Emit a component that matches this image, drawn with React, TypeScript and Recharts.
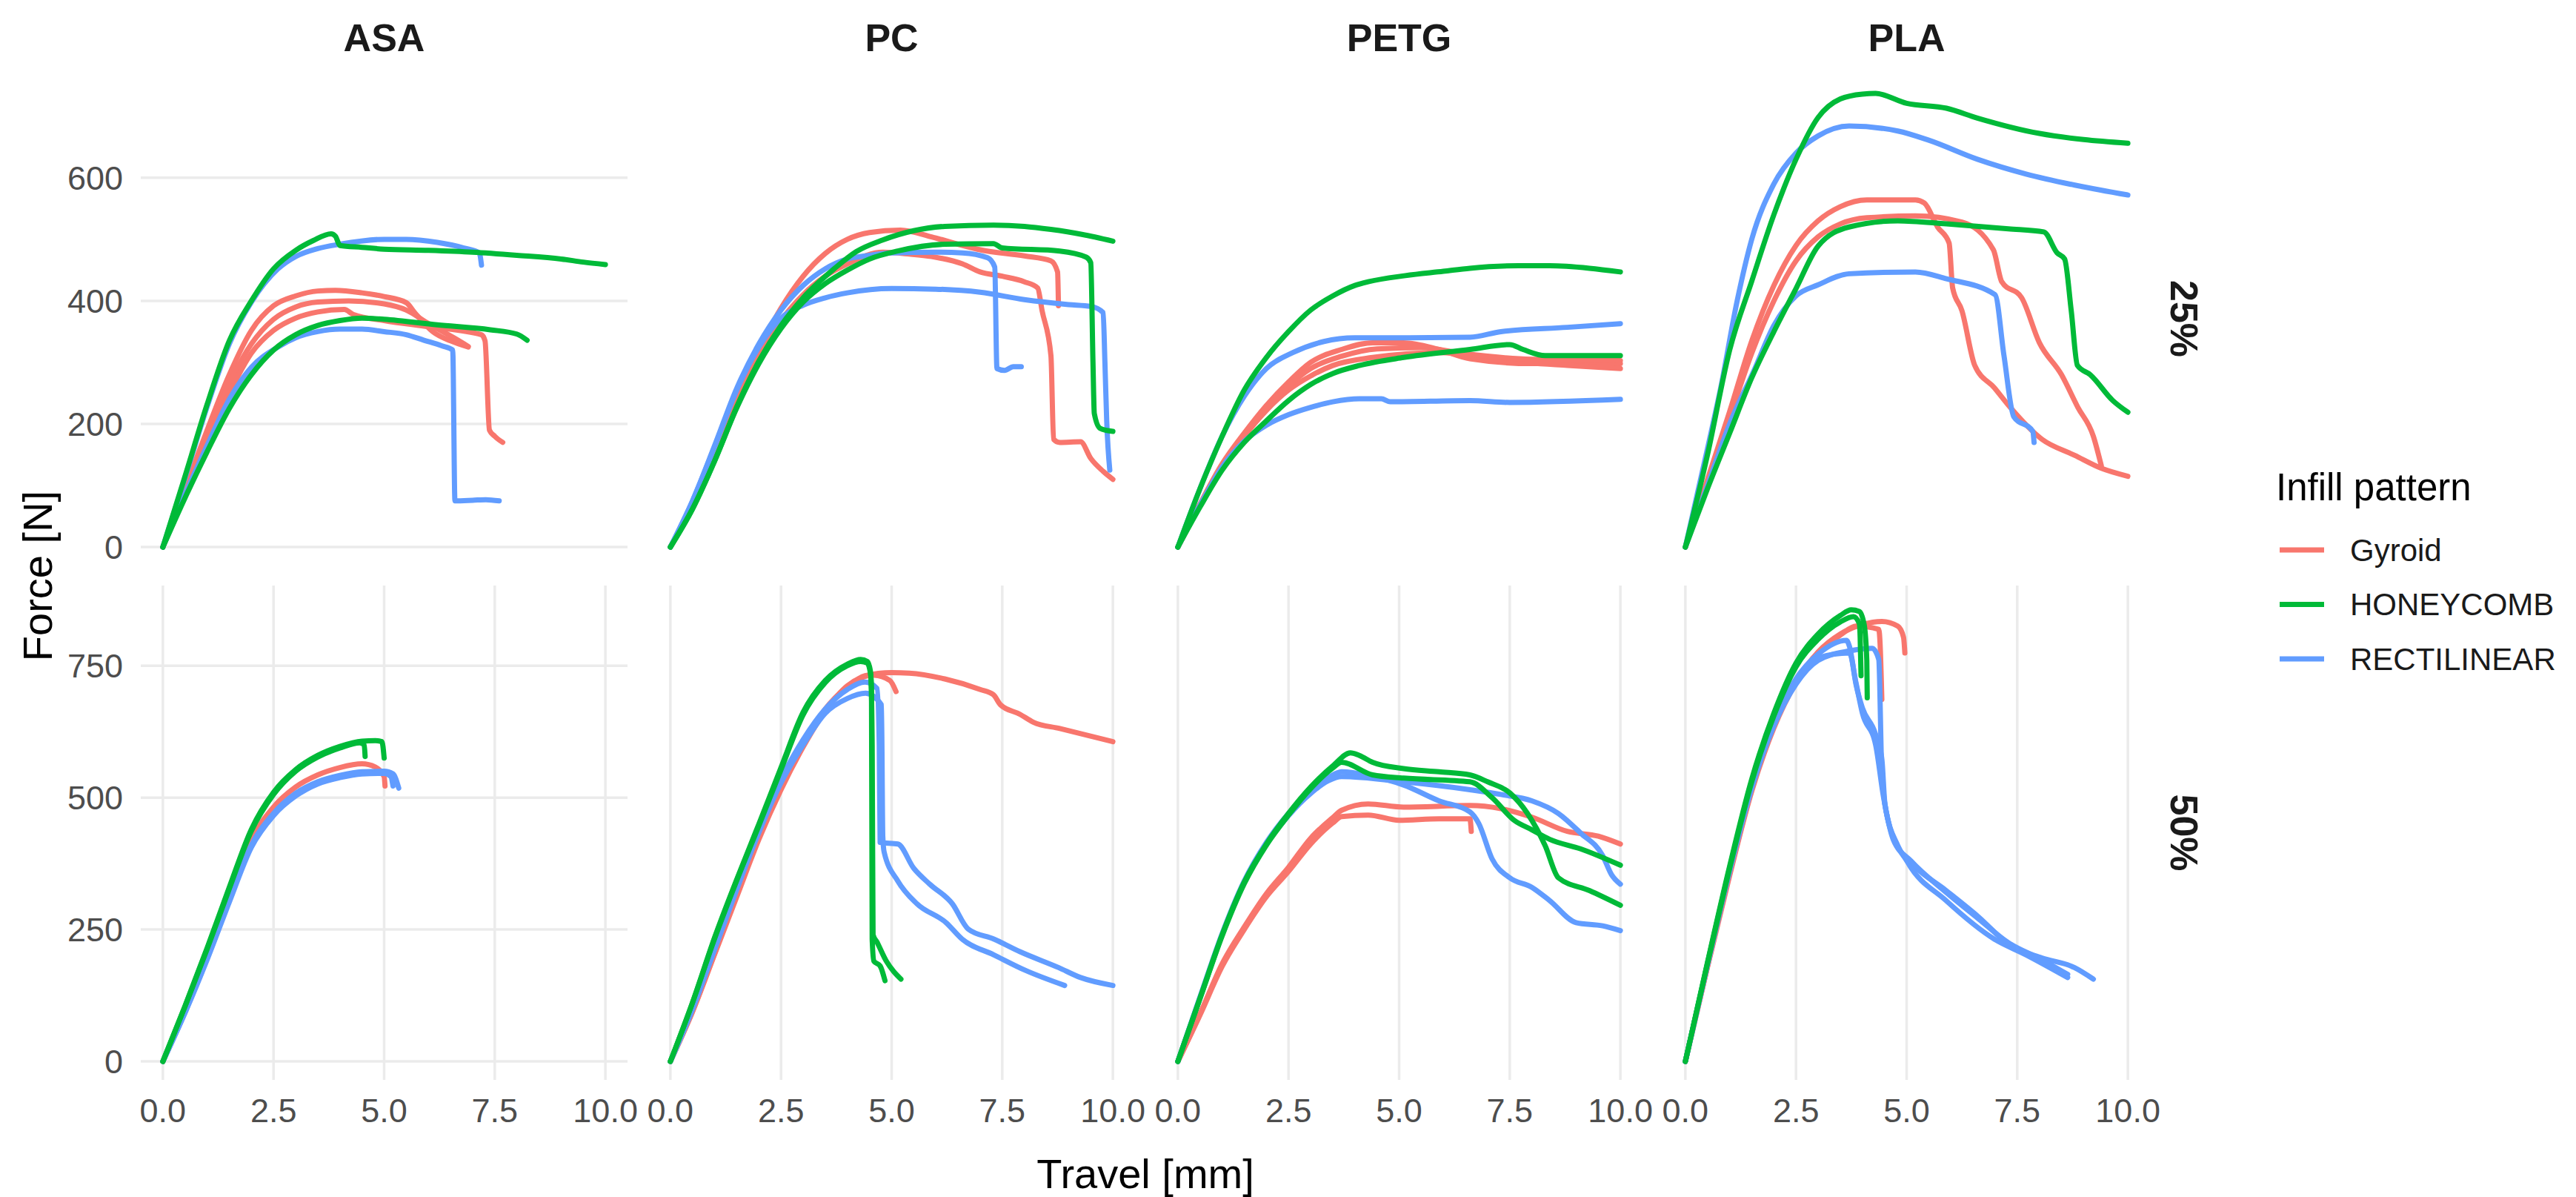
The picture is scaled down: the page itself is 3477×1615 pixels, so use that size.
import React from 'react';
import { LineChart, Line, XAxis, YAxis, CartesianGrid } from 'recharts';

type Pt = [number, number];

// ---- ASA 25% ----
const asa25Gyroid1: Pt[] = [[0,0],[0.5,95],[1,190],[1.5,280],[2,352],[2.5,392],[3,408],[3.5,416],[3.9,417],[4.5,413],[5,407],[5.5,397],[5.7,380],[6.1,350],[6.5,335],[6.9,325]];
const asa25Gyroid2: Pt[] = [[0,0],[0.5,90],[1,180],[1.5,265],[2,330],[2.5,370],[3,390],[3.5,398],[4.2,400],[5,395],[5.5,385],[6,363],[6.6,339],[6.9,326]];
const asa25Gyroid3: Pt[] = [[0,0],[0.5,88],[1,172],[1.5,250],[2,315],[2.5,352],[3,372],[3.5,382],[4.1,386],[4.3,378],[5,368],[6,358],[7.2,345],[7.28,335],[7.38,190],[7.5,180],[7.68,170]];
const asa25Honey1: Pt[] = [[0,0],[0.5,115],[1,232],[1.5,335],[2,400],[2.5,452],[3,482],[3.4,498],[3.8,509],[3.9,505],[4,490],[4.5,487],[5,484],[6,482],[7,479],[8,474],[9,468],[9.5,463],[10,459]];
const asa25Honey2: Pt[] = [[0,0],[0.5,80],[1,155],[1.5,225],[2,280],[2.5,320],[3,345],[3.5,360],[4,368],[4.5,372],[5,370],[6.2,361],[7.4,353],[8,346],[8.23,336]];
const asa25Rect1: Pt[] = [[0,0],[0.5,112],[1,228],[1.5,330],[2,398],[2.6,452],[3,472],[3.5,485],[4,492],[5,500],[5.5,500],[6.2,495],[6.8,486],[7.15,478],[7.2,458]];
const asa25Rect2: Pt[] = [[0,0],[0.5,85],[1,165],[1.5,240],[2,292],[2.6,325],[3,340],[3.5,350],[4,354],[4.5,354],[5,350],[5.5,345],[5.9,336],[6.3,327],[6.55,320],[6.6,75],[7,76],[7.3,77],[7.6,75]];

// ---- ASA 50% ----
const asa50Gyroid1: Pt[] = [[0,0],[0.5,95],[1,200],[1.5,310],[2,420],[2.5,482],[3,520],[3.5,543],[4,557],[4.5,564],[4.8,558],[5,540],[5.02,522]];
const asa50Honey1: Pt[] = [[0,0],[0.5,105],[1,215],[1.5,330],[2,440],[2.5,510],[3,553],[3.5,580],[4,597],[4.5,607],[4.8,608],[4.95,606],[5,575]];
const asa50Honey2: Pt[] = [[0,0],[0.5,104],[1,213],[1.5,327],[2,437],[2.5,506],[3,550],[3.5,577],[4,594],[4.45,604],[4.55,600],[4.57,578]];
const asa50Rect1: Pt[] = [[0,0],[0.5,93],[1,195],[1.5,305],[2,410],[2.5,470],[3,508],[3.5,530],[4,542],[4.5,549],[5,550],[5.2,545],[5.33,518]];
const asa50Rect2: Pt[] = [[0,0],[0.5,92],[1,193],[1.5,302],[2,406],[2.5,466],[3,503],[3.5,526],[4,538],[4.5,545],[5,546],[5.15,540],[5.2,522]];

// ---- PC 25% ----
const pc25Gyroid1: Pt[] = [[0,0],[0.5,68],[1,150],[1.5,240],[2,320],[2.5,388],[3,440],[3.5,477],[4,500],[4.5,511],[5.2,515],[5.9,504],[6.5,492],[7,483],[8,473],[8.6,465],[8.75,447],[8.77,392]];
const pc25Gyroid2: Pt[] = [[0,0],[0.5,65],[1,145],[1.5,230],[2,310],[2.5,368],[3,410],[3.5,440],[4,460],[4.8,479],[5.4,476],[5.9,472],[6.6,460],[7,447],[7.5,440],[8,431],[8.3,421],[8.4,384],[8.6,311],[8.66,175],[8.8,170],[9.27,171],[9.5,144],[9.78,123],[10,110]];
const pc25Honey1: Pt[] = [[0,0],[0.5,62],[1,140],[1.5,228],[2,302],[2.5,360],[3,405],[3.7,452],[4.2,480],[4.8,499],[5.5,514],[6.2,521],[7.3,523],[8,521],[8.6,516],[9.3,508],[10,497]];
const pc25Honey2: Pt[] = [[0,0],[0.5,62],[1,140],[1.5,226],[2,298],[2.5,355],[3,398],[3.5,428],[4,450],[4.5,468],[5.14,481],[6.2,492],[7.3,493],[7.5,486],[8.8,481],[9.4,471],[9.5,462],[9.55,300],[9.58,217],[9.71,193],[10,188]];
const pc25Rect1: Pt[] = [[0,0],[0.5,75],[1,165],[1.5,258],[2,330],[2.5,385],[3,425],[3.5,452],[4,468],[4.5,474],[5,478],[6,479],[6.6,478],[7.17,470],[7.33,455],[7.38,290],[7.55,287],[7.75,293],[7.93,293]];
const pc25Rect2: Pt[] = [[0,0],[0.5,75],[1,163],[1.5,255],[2,325],[2.5,372],[3,393],[3.5,405],[4,413],[5,420],[6,419],[7,414],[8,402],[9,394],[9.5,391],[9.78,381],[9.82,300],[9.86,206],[9.93,125]];

// ---- PC 50% ----
const pc50Gyroid1: Pt[] = [[0,0],[0.5,95],[1,205],[1.5,315],[2,425],[2.5,520],[3,600],[3.5,668],[4,710],[4.4,731],[5,737],[5.4,736],[6.2,725],[7,705],[7.3,695],[7.46,676],[7.9,658],[8.2,643],[8.8,631],[10,606]];
const pc50Gyroid2: Pt[] = [[0,0],[0.5,94],[1,203],[1.5,312],[2,421],[2.5,515],[3,596],[3.5,664],[4,712],[4.6,732],[4.96,722],[5.1,701]];
const pc50Honey1: Pt[] = [[0,0],[0.5,112],[1,235],[1.5,345],[2,450],[2.5,557],[3,662],[3.5,722],[4,753],[4.3,762],[4.45,758],[4.52,740],[4.545,700],[4.56,232],[4.6,190],[4.74,181],[4.85,153]];
const pc50Honey2: Pt[] = [[0,0],[0.5,111],[1,233],[1.5,343],[2,447],[2.5,553],[3,657],[3.5,718],[4,750],[4.3,758],[4.45,755],[4.53,730],[4.56,600],[4.58,240],[4.67,226],[4.88,190],[5.05,170],[5.21,156]];
const pc50Rect1: Pt[] = [[0,0],[0.5,100],[1,215],[1.5,330],[2,440],[2.5,535],[3,610],[3.5,668],[4,705],[4.4,719],[4.67,707],[4.72,600],[4.74,415],[5.14,412],[5.5,366],[5.86,336],[6.37,299],[6.73,251],[7.31,232],[7.9,208],[8.77,178],[9.27,159],[10,144]];
const pc50Rect2: Pt[] = [[0,0],[0.5,99],[1,212],[1.5,326],[2,434],[2.5,528],[3,600],[3.5,660],[4,688],[4.41,698],[4.77,676],[4.8,427],[4.83,397],[5.14,342],[5.57,299],[6.23,263],[6.59,232],[7.31,202],[8.04,172],[8.91,144]];

// ---- PETG 25% ----
const petg25Gyroid1: Pt[] = [[0,0],[0.5,70],[1,135],[1.5,185],[2,230],[2.5,268],[3,300],[3.7,321],[4.4,332],[5.1,332],[5.9,321],[6.6,306],[8,298],[10,298]];
const petg25Gyroid2: Pt[] = [[0,0],[0.5,68],[1,130],[1.5,180],[2,222],[2.5,255],[3,278],[3.5,295],[4.4,308],[5.9,316],[7.3,303],[8.8,295],[10,290]];
const petg25Gyroid3: Pt[] = [[0,0],[0.5,69],[1,132],[1.5,183],[2,226],[2.5,262],[3,290],[3.7,310],[4.5,322],[5.5,324],[6.5,314],[8,305],[10,303]];
const petg25Honey1: Pt[] = [[0,0],[0.5,95],[1,180],[1.5,255],[2,308],[2.5,350],[3,385],[3.5,408],[4,425],[4.3,431],[5.14,441],[6,448],[6.6,453],[7.7,457],[8.4,457],[9.3,453],[10,447]];
const petg25Honey2: Pt[] = [[0,0],[0.5,65],[1,125],[1.5,170],[2,205],[2.5,238],[3,264],[3.5,282],[4.1,295],[5.1,308],[6.6,321],[7.5,329],[7.8,321],[8.3,311],[10,311]];
const petg25Rect1: Pt[] = [[0,0],[0.5,95],[1,180],[1.5,245],[2,290],[2.6,316],[3.3,334],[4,340],[5,340],[6.6,341],[7.3,350],[8.8,357],[10,363]];
const petg25Rect2: Pt[] = [[0,0],[0.5,68],[1,130],[1.5,172],[2,198],[2.5,215],[3,227],[3.5,236],[4.1,241],[4.6,241],[4.8,236],[6.6,238],[7.5,235],[10,240]];

// ---- PETG 50% ----
const petg50Gyroid1: Pt[] = [[0,0],[0.5,90],[1,185],[1.5,255],[2,318],[2.5,368],[3,423],[3.5,462],[3.7,476],[4.3,488],[5.1,482],[6.6,485],[7.3,479],[8,463],[8.8,436],[9.5,427],[10,412]];
const petg50Gyroid2: Pt[] = [[0,0],[0.5,88],[1,180],[1.5,250],[2,312],[2.5,360],[3,412],[3.5,452],[3.7,464],[4.3,467],[5,457],[5.9,460],[6.6,460],[6.63,436]];
const petg50Honey1: Pt[] = [[0,0],[0.5,120],[1,240],[1.5,340],[2,412],[2.5,470],[3,520],[3.5,560],[3.9,585],[4.1,580],[4.4,567],[5.1,555],[5.9,549],[6.6,543],[7,530],[7.5,509],[7.9,470],[8.3,409],[8.6,348],[9.3,324],[10,296]];
const petg50Honey2: Pt[] = [[0,0],[0.5,119],[1,238],[1.5,337],[2,410],[2.5,467],[3,517],[3.5,556],[3.7,567],[4.4,543],[5.1,537],[6.6,530],[7.1,500],[7.6,457],[8,439],[8.4,421],[9.1,403],[10,372]];
const petg50Rect1: Pt[] = [[0,0],[0.5,122],[1,242],[1.5,342],[2,415],[2.5,470],[3,512],[3.4,538],[3.7,549],[4.4,540],[5.1,524],[5.9,494],[6.6,473],[6.8,451],[7.1,384],[7.5,348],[8,330],[8.4,305],[9,263],[9.6,257],[10,248]];
const petg50Rect2: Pt[] = [[0,0],[0.5,121],[1,240],[1.5,340],[2,412],[2.5,466],[3,508],[3.4,532],[3.7,540],[5.1,530],[6.6,515],[7.3,506],[8,494],[8.6,470],[9.1,433],[9.6,390],[9.8,354],[10,336]];

// ---- PLA 25% ----
const pla25Gyroid1: Pt[] = [[0,0],[0.5,110],[1,220],[1.5,335],[2,425],[2.5,490],[3,530],[3.5,553],[4.1,564],[5.2,564],[5.4,559],[5.7,520],[5.96,494],[6.04,421],[6.25,384],[6.54,295],[6.98,259],[7.34,227],[8.06,175],[8.8,149],[9.4,128],[10,115]];
const pla25Gyroid2: Pt[] = [[0,0],[0.5,105],[1,210],[1.5,315],[2,400],[2.5,465],[3,504],[3.5,525],[4.1,535],[5.2,538],[6.25,528],[6.96,483],[7.15,431],[7.6,405],[8,332],[8.5,280],[8.87,227],[9.22,180],[9.4,132]];
const pla25Honey1: Pt[] = [[0,0],[0.5,150],[1,320],[1.5,432],[2,540],[2.5,630],[3,698],[3.5,728],[4,736],[4.3,737],[5,721],[5.9,713],[6.6,697],[8,672],[9,662],[10,656]];
const pla25Honey2: Pt[] = [[0,0],[0.5,95],[1,185],[1.5,275],[2,350],[2.5,420],[3,489],[3.7,520],[4.8,530],[5.9,525],[7.3,517],[8.1,512],[8.4,478],[8.57,468],[8.72,384],[8.86,295],[9.15,280],[9.66,238],[10,219]];
const pla25Rect1: Pt[] = [[0,0],[0.5,160],[0.8,259],[1.17,400],[1.5,500],[2,590],[2.5,640],[3,668],[3.7,684],[4.8,676],[5.5,661],[6.6,630],[7.7,606],[8.8,588],[10,572]];
const pla25Rect2: Pt[] = [[0,0],[0.5,100],[1,200],[1.54,285],[2,360],[2.5,408],[3,426],[3.7,444],[5.2,447],[5.9,436],[7,410],[7.2,311],[7.42,212],[7.85,188],[7.88,170]];

// ---- PLA 50% ----
const pla50Gyroid1: Pt[] = [[0,0],[0.5,180],[1,355],[1.5,515],[2,635],[2.5,720],[3,775],[3.5,808],[3.86,825],[4.37,819],[4.4,792],[4.44,686]];
const pla50Gyroid2: Pt[] = [[0,0],[0.5,179],[1,352],[1.5,512],[2,632],[2.5,718],[3,776],[3.5,810],[4,828],[4.44,834],[4.8,825],[4.93,804],[4.96,774]];
const pla50Honey1: Pt[] = [[0,0],[0.5,188],[1,370],[1.5,535],[2,660],[2.5,755],[3,810],[3.5,845],[3.75,856],[3.93,853],[4.04,828],[4.1,760],[4.11,689]];
const pla50Honey2: Pt[] = [[0,0],[0.5,186],[1,366],[1.5,530],[2,655],[2.5,748],[3,800],[3.5,833],[3.8,843],[3.93,830],[3.95,804],[3.97,731]];
const pla50Rect1: Pt[] = [[0,0],[0.5,185],[1,365],[1.5,525],[2,645],[2.5,725],[3,772],[3.64,798],[3.71,786],[3.86,713],[4,670],[4.29,622],[4.44,573],[4.51,488],[4.8,409],[5.16,372],[5.89,324],[6.61,275],[7.34,220],[8.06,196],[8.79,178],[9.22,156]];
const pla50Rect2: Pt[] = [[0,0],[0.5,183],[1,360],[1.5,518],[2,636],[2.5,715],[3,760],[3.7,778],[4.22,783],[4.37,762],[4.44,549],[4.58,457],[5.02,378],[5.89,305],[6.98,232],[7.7,202],[8.64,159]];
const pla50Rect3: Pt[] = [[0,0],[0.5,184],[1,362],[1.5,520],[2,640],[2.5,718],[3,765],[3.71,774],[3.85,720],[4,660],[4.3,600],[4.48,500],[4.7,420],[5.1,380],[5.9,320],[6.6,272],[7.3,225],[8,195],[8.64,165]];

// ---- axes / facets ----
const MATERIALS = ['ASA', 'PC', 'PETG', 'PLA'];
const INFILLS = ['25%', '50%'];
const X_TICKS = [0, 2.5, 5, 7.5, 10];
const Y_TICKS_25 = [0, 200, 400, 600];
const Y_TICKS_50 = [0, 250, 500, 750];
const PATTERNS = ['Gyroid', 'HONEYCOMB', 'RECTILINEAR'];
const COLORS: Record<string, string> = { Gyroid: '#F8766D', HONEYCOMB: '#00BA38', RECTILINEAR: '#619CFF' };

type Curve = { pattern: string; pts: Pt[] };
const c = (pattern: string, pts: Pt[]): Curve => ({ pattern, pts });

// panel curves, row by row (25% then 50%), drawn red, blue, green
const PANEL_CURVES: Curve[][][] = [
  [
    [c('Gyroid', asa25Gyroid1), c('Gyroid', asa25Gyroid2), c('Gyroid', asa25Gyroid3), c('RECTILINEAR', asa25Rect1), c('RECTILINEAR', asa25Rect2), c('HONEYCOMB', asa25Honey1), c('HONEYCOMB', asa25Honey2)],
    [c('Gyroid', pc25Gyroid1), c('Gyroid', pc25Gyroid2), c('RECTILINEAR', pc25Rect1), c('RECTILINEAR', pc25Rect2), c('HONEYCOMB', pc25Honey1), c('HONEYCOMB', pc25Honey2)],
    [c('Gyroid', petg25Gyroid1), c('Gyroid', petg25Gyroid2), c('Gyroid', petg25Gyroid3), c('RECTILINEAR', petg25Rect1), c('RECTILINEAR', petg25Rect2), c('HONEYCOMB', petg25Honey1), c('HONEYCOMB', petg25Honey2)],
    [c('Gyroid', pla25Gyroid1), c('Gyroid', pla25Gyroid2), c('RECTILINEAR', pla25Rect1), c('RECTILINEAR', pla25Rect2), c('HONEYCOMB', pla25Honey1), c('HONEYCOMB', pla25Honey2)],
  ],
  [
    [c('Gyroid', asa50Gyroid1), c('RECTILINEAR', asa50Rect1), c('RECTILINEAR', asa50Rect2), c('HONEYCOMB', asa50Honey1), c('HONEYCOMB', asa50Honey2)],
    [c('Gyroid', pc50Gyroid1), c('Gyroid', pc50Gyroid2), c('RECTILINEAR', pc50Rect1), c('RECTILINEAR', pc50Rect2), c('HONEYCOMB', pc50Honey1), c('HONEYCOMB', pc50Honey2)],
    [c('Gyroid', petg50Gyroid1), c('Gyroid', petg50Gyroid2), c('RECTILINEAR', petg50Rect1), c('RECTILINEAR', petg50Rect2), c('HONEYCOMB', petg50Honey1), c('HONEYCOMB', petg50Honey2)],
    [c('Gyroid', pla50Gyroid1), c('Gyroid', pla50Gyroid2), c('RECTILINEAR', pla50Rect1), c('RECTILINEAR', pla50Rect2), c('RECTILINEAR', pla50Rect3), c('HONEYCOMB', pla50Honey1), c('HONEYCOMB', pla50Honey2)],
  ],
];

// layout (px)
const W = 3477;
const H = 1615;
const FONT = '"Liberation Sans", Arial, Helvetica, sans-serif';
const PANEL_LEFT = [190, 875, 1560, 2245];
const PANEL_W = 657;
const ROW_TOP = [97, 790];
const ROW_H = [666, 667];
const Y_DOMAINS: [number, number][] = [[-30, 772], [-35, 902]];
const Y_AXIS_W = 190;
const X_AXIS_H = 90;
const RIGHT_PAD = 50; // room for the "10.0" tick label

const Panel = ({ row, col }: { row: number; col: number }) => {
  const showY = col === 0;
  const showX = row === 1;
  const yW = showY ? Y_AXIS_W : 0;
  const xH = showX ? X_AXIS_H : 0;
  const tickStyle = { fontSize: 45, fill: '#4D4D4D', fontFamily: FONT };
  return (
    <div style={{ position: 'absolute', left: PANEL_LEFT[col] - yW, top: ROW_TOP[row] }}>
      <LineChart
        width={PANEL_W + yW + RIGHT_PAD}
        height={ROW_H[row] + xH}
        margin={{ top: 0, right: RIGHT_PAD, bottom: 0, left: 0 }}
      >
        <CartesianGrid stroke="#EBEBEB" strokeWidth={3.5} syncWithTicks />
        <XAxis
          type="number"
          dataKey="x"
          domain={[-0.5, 10.5]}
          ticks={X_TICKS}
          interval={0}
          allowDataOverflow
          height={xH}
          axisLine={false}
          tickLine={false}
          tickSize={0}
          tickMargin={25}
          tick={showX ? tickStyle : false}
          tickFormatter={(v: number) => v.toFixed(1)}
        />
        <YAxis
          type="number"
          domain={Y_DOMAINS[row]}
          ticks={row === 0 ? Y_TICKS_25 : Y_TICKS_50}
          interval={0}
          allowDataOverflow
          width={yW}
          axisLine={false}
          tickLine={false}
          tickSize={0}
          tickMargin={24}
          tick={showY ? tickStyle : false}
        />
        {PANEL_CURVES[row][col].map((cv, i) => (
          <Line
            key={i}
            data={cv.pts.map(([x, y]) => ({ x, y }))}
            dataKey="y"
            type="monotone"
            stroke={COLORS[cv.pattern]}
            strokeWidth={7}
            strokeLinejoin="round"
            strokeLinecap="round"
            dot={false}
            activeDot={false}
            isAnimationActive={false}
          />
        ))}
      </LineChart>
    </div>
  );
};

const App = () => {
  const panelsRight = PANEL_LEFT[3] + PANEL_W;
  return (
    <div style={{ position: 'absolute', left: 0, top: 0, width: W, height: H, background: '#fff', fontFamily: FONT }}>
      {INFILLS.map((_, r) => MATERIALS.map((__, ci) => <Panel key={`${r}-${ci}`} row={r} col={ci} />))}
      <svg width={W} height={H} style={{ position: 'absolute', left: 0, top: 0, pointerEvents: 'none' }}>
        {MATERIALS.map((m, i) => (
          <text key={m} x={PANEL_LEFT[i] + PANEL_W / 2} y={51} textAnchor="middle" dominantBaseline="central"
            fontSize={52} fontWeight="bold" fill="#1A1A1A" fontFamily={FONT}>{m}</text>
        ))}
        {INFILLS.map((s, r) => (
          <text key={s} transform={`translate(${panelsRight + 46}, ${ROW_TOP[r] + ROW_H[r] / 2}) rotate(90)`}
            textAnchor="middle" dominantBaseline="central" fontSize={52} fontWeight="bold" fill="#1A1A1A" fontFamily={FONT}>{s}</text>
        ))}
        <text transform="translate(50, 777) rotate(-90)" textAnchor="middle" dominantBaseline="central"
          fontSize={56} fill="#000" fontFamily={FONT}>Force [N]</text>
        <text x={(PANEL_LEFT[0] + panelsRight) / 2} y={1583} textAnchor="middle" dominantBaseline="central"
          fontSize={56} fill="#000" fontFamily={FONT}>Travel [mm]</text>
        <text x={3072} y={657} dominantBaseline="central" fontSize={51} fill="#000" fontFamily={FONT}>Infill pattern</text>
        {PATTERNS.map((p, i) => {
          const y = 742 + i * 73.5;
          return (
            <g key={p}>
              <line x1={3077} x2={3137} y1={y} y2={y} stroke={COLORS[p]} strokeWidth={7} />
              <text x={3172} y={y} dominantBaseline="central" fontSize={42} fill="#1A1A1A" fontFamily={FONT}>{p}</text>
            </g>
          );
        })}
      </svg>
    </div>
  );
};

export default App;
